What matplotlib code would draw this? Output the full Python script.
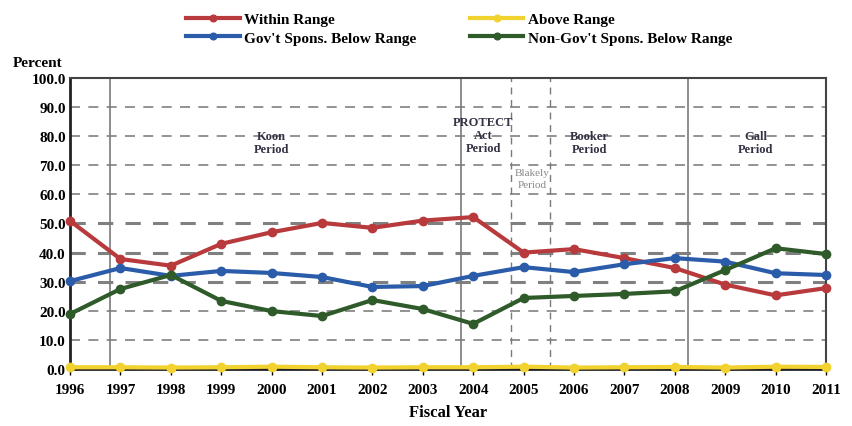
import numpy as np
import matplotlib.pyplot as plt

plt.rcParams['font.family'] = ['Liberation Serif', 'DejaVu Serif']

years = list(range(1996, 2012))
within = [50.9, 37.8, 35.5, 43.0, 47.0, 50.2, 48.5, 51.0, 52.2, 40.0, 41.2, 38.1, 34.7, 29.0, 25.3, 27.8]
above = [0.6, 0.6, 0.5, 0.6, 0.8, 0.6, 0.5, 0.6, 0.6, 0.8, 0.5, 0.6, 0.7, 0.5, 0.8, 0.7]
gov_below = [30.2, 34.7, 32.0, 33.7, 33.0, 31.6, 28.2, 28.5, 32.0, 35.0, 33.3, 36.0, 38.1, 36.9, 32.9, 32.3]
nongov_below = [18.9, 27.5, 32.3, 23.4, 19.9, 18.2, 23.7, 20.6, 15.5, 24.4, 25.1, 25.8, 26.7, 34.0, 41.5, 39.5]

period_solid = [1996.79, 2003.76, 2008.26]
period_dashed = [2004.75, 2005.52]

fig = plt.figure(figsize=(8.52, 4.27), dpi=100)
ax = fig.add_axes([0.0822, 0.1335, 0.8873, 0.6815])

# gridlines
for y in range(10, 100, 10):
    heavy = y in (30, 40, 50)
    ax.axhline(y, color='#808080', ls=(0, (5, 4)) if heavy else (0, (6, 5)),
               lw=2.2 if heavy else 1.2, zorder=1)

for x in period_solid:
    ax.axvline(x, color='#7a7a7a', lw=1.2, zorder=1)
for x in period_dashed:
    ax.axvline(x, color='#7a7a7a', lw=1.0, ls=(0, (5, 4)), zorder=1)

series = [
    (within, '#B83A3C', 'Within Range'),
    (gov_below, '#2A5CAA', "Gov't Spons. Below Range"),
    (above, '#F2D22E', 'Above Range'),
    (nongov_below, '#2F5A2A', "Non-Gov't Spons. Below Range"),
]
handles = []
for vals, col, lab in series:
    h, = ax.plot(years, vals, color=col, lw=3, marker='o', ms=6, label=lab, zorder=3,
                 clip_on=False)
    handles.append(h)

ax.set_xlim(1996, 2011)
ax.set_ylim(0, 100)
ax.set_xticks(years)
ax.set_xticklabels([str(y) for y in years], fontsize=11, fontweight='bold')
ax.set_yticks(np.arange(0, 101, 10))
ax.set_yticklabels([f'{v:.1f}' for v in np.arange(0, 101, 10)], fontsize=11, fontweight='bold')
ax.tick_params(axis='x', length=4, width=1, direction='out', pad=6)
ax.tick_params(axis='y', length=0, pad=3)
for s in ['left', 'bottom']:
    ax.spines[s].set_linewidth(2)
    ax.spines[s].set_color('#222222')
for s in ['top', 'right']:
    ax.spines[s].set_linewidth(1.5)
    ax.spines[s].set_color('#444444')

ax.set_xlabel('Fiscal Year', fontsize=12, fontweight='bold', labelpad=6)
fig.text(0.015, 0.835, 'Percent', fontsize=11, fontweight='bold', ha='left', va='bottom')

lab_kw = dict(ha='center', va='top', fontsize=9, fontweight='bold', color='#333344', linespacing=1.1)
ax.text(2000.0, 82, 'Koon\nPeriod', **lab_kw)
ax.text(2004.2, 87, 'PROTECT\nAct\nPeriod', **lab_kw)
ax.text(2006.3, 82, 'Booker\nPeriod', **lab_kw)
ax.text(2009.6, 82, 'Gall\nPeriod', **lab_kw)
ax.text(2005.17, 69, 'Blakely\nPeriod', ha='center', va='top', fontsize=8, color='#888888',
        linespacing=1.4)

fig.legend(handles=handles, labels=[h.get_label() for h in handles],
           loc='upper center', bbox_to_anchor=(0.539, 1.0), ncol=2, frameon=False,
           prop={'weight': 'bold', 'size': 11}, handlelength=3.5, handletextpad=0.3,
           columnspacing=3.5, labelspacing=0.3, markerscale=0.8)

fig.savefig('out.png', dpi=100)
